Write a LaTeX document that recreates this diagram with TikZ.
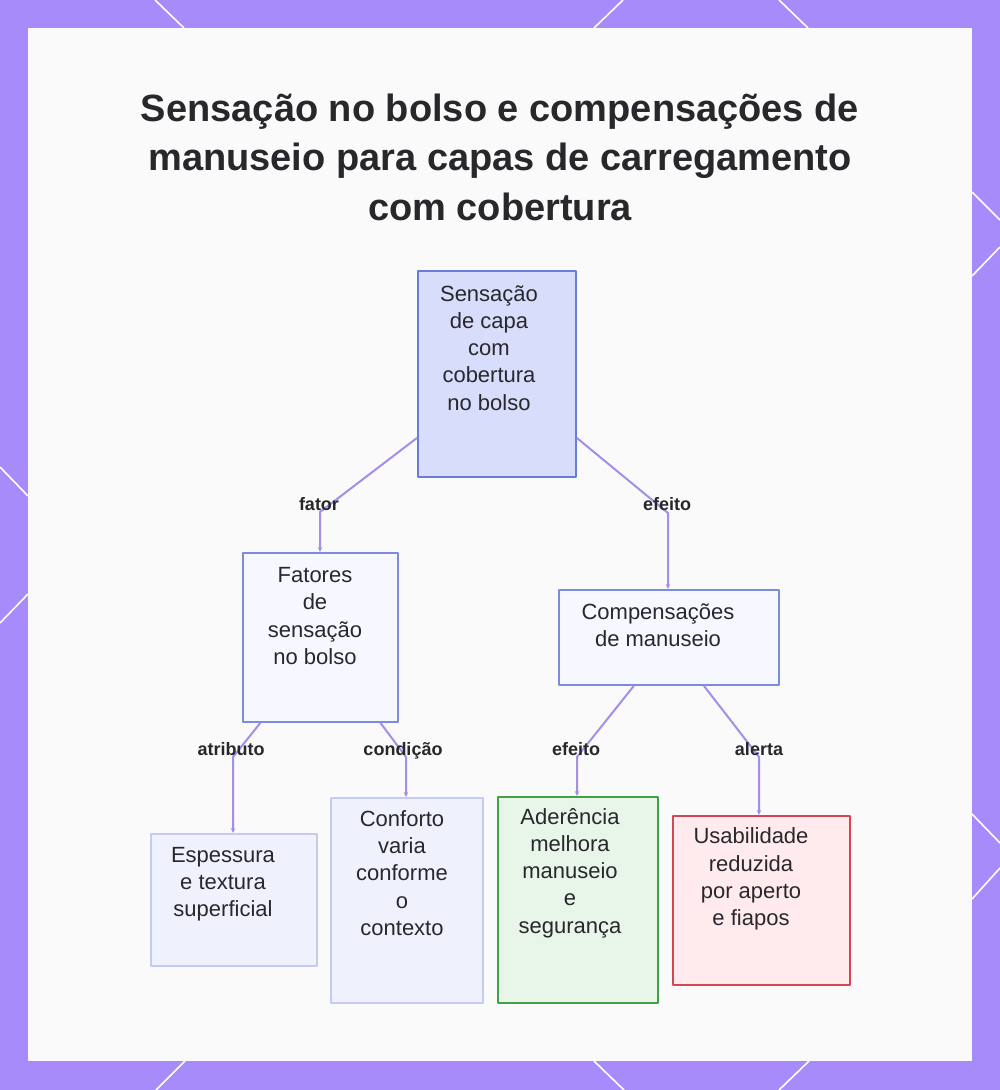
\documentclass[tikz,border=0pt]{standalone}
\usepackage{fontspec}
\setmainfont{Liberation Sans}
\usetikzlibrary{arrows.meta}
\definecolor{frame}{RGB}{167,139,250}
\definecolor{panel}{RGB}{250,250,250}
\definecolor{edge}{RGB}{164,142,232}
\definecolor{ink}{RGB}{40,40,44}
\definecolor{rootfill}{RGB}{217,221,252}
\definecolor{rootline}{RGB}{106,125,214}
\definecolor{midfill}{RGB}{246,247,255}
\definecolor{midline}{RGB}{124,140,220}
\definecolor{leaffill}{RGB}{239,241,253}
\definecolor{leafline}{RGB}{196,203,245}
\definecolor{goodfill}{RGB}{232,245,233}
\definecolor{goodline}{RGB}{67,160,71}
\definecolor{badfill}{RGB}{255,235,238}
\definecolor{badline}{RGB}{214,69,84}
\begin{document}
\begin{tikzpicture}[x=1pt, y=-1pt, >=Stealth, line join=round,
  box/.style={draw, line width=1.8pt, anchor=north west, inner sep=0pt},
  txt/.style={align=center, inner sep=0pt, text=ink, font=\fontsize{22}{27.2}\selectfont},
  lbl/.style={inner sep=0pt, text height=13pt, text depth=4pt, text=ink, font=\fontsize{18}{20}\selectfont\bfseries},
  link/.style={draw=edge, line width=2pt, -{Stealth[length=5pt,width=4.5pt]}},
  cut/.style={white, line width=1.6pt}]
	% frame and panel
	\useasboundingbox (0,0) rectangle (1000,1090);
	\fill[frame] (0,0) rectangle (1000,1090);
	\fill[panel] (28,28) rectangle (972,1061);
	\draw[cut] (155,0) -- (184,28);
	\draw[cut] (623,0) -- (594,28);
	\draw[cut] (779,0) -- (808,28);
	\draw[cut] (0,467) -- (28,496);
	\draw[cut] (28,594) -- (0,623);
	\draw[cut] (972,192) -- (1000,220);
	\draw[cut] (1000,247) -- (972,276);
	\draw[cut] (972,814) -- (1000,843);
	\draw[cut] (1000,868) -- (972,899);
	\draw[cut] (156,1090) -- (185,1061);
	\draw[cut] (594,1061) -- (624,1090);
	\draw[cut] (809,1061) -- (779,1090);

	% title
	\node[align=center, text=ink, font=\fontsize{38}{49.5}\selectfont\bfseries] (title) at (500,157)
		{Sensação no bolso e compensações de\\manuseio para capas de carregamento\\com cobertura};

	% boxes
	\node[box, fill=rootfill, draw=rootline, minimum width=158, minimum height=206] (root) at (417,270) {};
	\node[box, fill=midfill, draw=midline, minimum width=155, minimum height=169] (fat) at (242,552) {};
	\node[box, fill=midfill, draw=midline, minimum width=220, minimum height=95] (comp) at (558,589) {};
	\node[box, fill=leaffill, draw=leafline, minimum width=166, minimum height=132] (esp) at (150,833) {};
	\node[box, fill=leaffill, draw=leafline, minimum width=152, minimum height=205] (conf) at (330,797) {};
	\node[box, fill=goodfill, draw=goodline, minimum width=160, minimum height=206] (ader) at (497,796) {};
	\node[box, fill=badfill, draw=badline, minimum width=177, minimum height=169] (usab) at (672,815) {};

	% box texts
	\node[txt] (rootT) at (489,348) {Sensação\\de capa\\com\\cobertura\\no bolso};
	\node[txt] (fatT) at (315,616) {Fatores\\de\\sensação\\no bolso};
	\node[txt] (compT) at (658,625) {Compensações\\de manuseio};
	\node[txt] (espT) at (223,884) {Espessura\\e textura\\superficial};
	\node[txt] (confT) at (402,873) {Conforto\\varia\\conforme\\o\\contexto};
	\node[txt] (aderT) at (570,873) {Aderência\\melhora\\manuseio\\e\\segurança};
	\node[txt] (usabT) at (751,879) {Usabilidade\\reduzida\\por aperto\\e fiapos};

	% connectors
	\coordinate (kFat) at (320,512);
	\coordinate (kComp) at (668,513);
	\coordinate (kEsp) at (233,757);
	\coordinate (kConf) at (406,757);
	\coordinate (kAder) at (577,757);
	\coordinate (kUsab) at (759,757);
	\draw[link] ([yshift=-64pt]root.west) -- (kFat) -- (kFat |- fat.north);
	\draw[link] ([yshift=-64pt]root.east) -- (kComp) -- (kComp |- comp.north);
	\draw[link] ([xshift=-60pt]fat.south) -- (kEsp) -- (kEsp |- esp.north);
	\draw[link] ([xshift=60pt]fat.south) -- (kConf) -- (kConf |- conf.north);
	\draw[link] ([xshift=-35pt]comp.south) -- (kAder) -- (kAder |- ader.north);
	\draw[link] ([xshift=35pt]comp.south) -- (kUsab) -- (kUsab |- usab.north);

	% connector labels
	\node[lbl] (lFat) at (319,506) {fator};
	\node[lbl] (lComp) at (667,506) {efeito};
	\node[lbl] (lEsp) at (231,751) {atributo};
	\node[lbl] (lConf) at (403,751) {condição};
	\node[lbl] (lAder) at (576,751) {efeito};
	\node[lbl] (lUsab) at (759,751) {alerta};
\end{tikzpicture}
\end{document}
